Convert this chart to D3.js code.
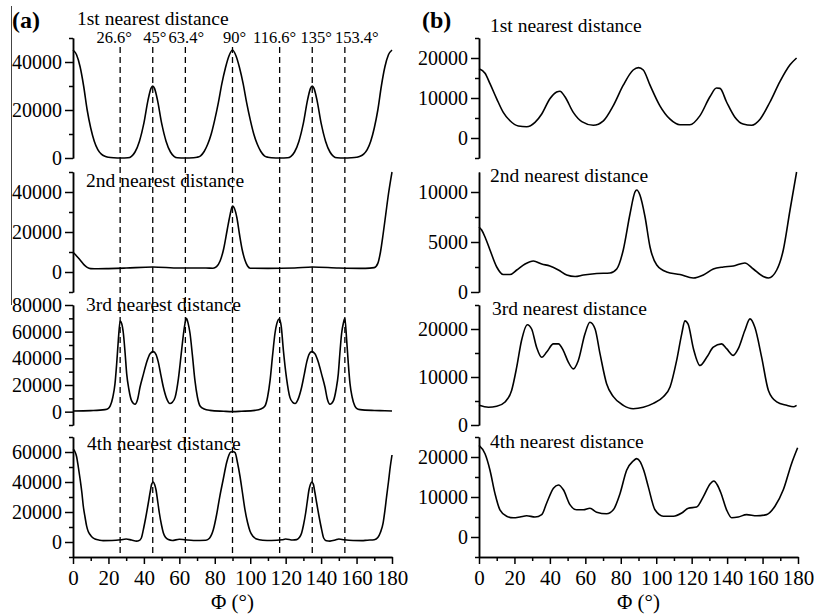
<!DOCTYPE html>
<html>
<head>
<meta charset="utf-8">
<script src="https://cdn.jsdelivr.net/npm/d3@7"></script>
<style>
  body { margin: 0; background: #fff; }
  svg text { font-family: "Liberation Serif", "Times New Roman", Times, "DejaVu Serif", serif !important; fill: #000; }
  .axis path, .axis line { stroke: #000; stroke-width: 1.5; fill: none; }
  .curve { fill: none; stroke: #000; stroke-width: 1.6; }
  .mark { stroke: #000; stroke-width: 1.3; stroke-dasharray: 6,4; }
</style>
</head>
<body>
<svg id="chart" width="814" height="616"></svg>
<script>
// ---- data ----
var phiTicks = [0, 20, 40, 60, 80, 100, 120, 140, 160, 180];
var phiMinor = [10, 30, 50, 70, 90, 110, 130, 150, 170];
var markAngles = [26.6, 45, 63.4, 90, 116.6, 135, 153.4];
var markLabels = ["26.6°", "45°", "63.4°", "90°", "116.6°", "135°", "153.4°"];
var titles = ["1st nearest distance", "2nd nearest distance", "3rd nearest distance", "4th nearest distance"];

// (a) y domains and ticks
var aDomains = [[0, 50000], [-10000, 50000], [-10000, 80000], [-10000, 70000]];
var aMajor = [[0, 20000, 40000], [0, 20000, 40000], [0, 20000, 40000, 60000, 80000], [0, 20000, 40000, 60000]];
var aMinor = [[10000, 30000, 50000], [-10000, 10000, 30000, 50000],
  [-10000, 10000, 30000, 50000, 70000], [-10000, 10000, 30000, 50000, 70000]];
// (b) y domains and ticks
var bDomains = [[-5000, 25000], [0, 12000], [0, 25000], [-5000, 25000]];
var bMajor = [[0, 10000, 20000], [0, 5000, 10000], [0, 10000, 20000], [0, 10000, 20000]];
var bMinor = [[-5000, 5000, 15000, 25000], [2500, 7500], [5000, 15000, 25000], [-5000, 5000, 15000, 25000]];

// series: [phi, count]
var a1 = [[0,45000],[2,43000],[4,38000],[6,30000],[8,20000],[10,12500],[12,7000],[14,3500],[16,1600],[18,700],
  [20,300],[23,80],[27,0],[31,100],[33,700],[35,2500],[37.5,7000],[40,14500],[42.3,24000],[44,29000],[45,30000],
  [46,29000],[47.7,24000],[50,14500],[52.5,7000],[55,2500],[57,700],[59,100],[63,0],[68,100],[70,300],[72,900],
  [74,2700],[76,5700],[78,10000],[80,16000],[82,23000],[84,31000],[86,37500],[88,42500],[90,45000],[92,42500],
  [94,37500],[96,31000],[98,23000],[100,16000],[102,10000],[104,5700],[106,2700],[108,900],[110,300],[112,100],
  [117,0],[121,100],[123,700],[125,2500],[127.5,7000],[130,14500],[132.3,24000],[134,29000],[135,30000],[136,29000],
  [137.7,24000],[140,14500],[142.5,7000],[145,2500],[147,700],[149,100],[153,0],[157,80],[160,300],[162,700],
  [164,1600],[166,3500],[168,7000],[170,12500],[172,20000],[174,30000],[176,38000],[178,43000],[180,45000]];

var a2 = [[0,9800],[1,9000],[2,8000],[4,6000],[6,3800],[8,2300],[10,1700],[14,1600],[20,1700],[30,2000],[45,2500],
  [60,2000],[75,2000],[79,1900],[81,2700],[83,5500],[85,11500],[87,21000],[88.5,28000],[90,33000],[91,32000],
  [92.5,27000],[94,18500],[95.5,11000],[97,6000],[98.5,3000],[100,1900],[110,1800],[125,2000],[135,2500],
  [150,2000],[165,1800],[170,2200],[172,4300],[173.5,10000],[175,19000],[176.5,29000],[178,39000],[180,50000]];

var a3 = [[0,500],[10,800],[18,1500],[20,2500],[21,4300],[22.5,11000],[23.7,21000],[24.7,37000],[25.6,54000],
  [26.6,68000],[27.5,66000],[28.4,59000],[29.4,44000],[30.3,28400],[31.5,17000],[33.1,8100],[35,5600],[36.5,9500],
  [37.8,18300],[39.7,28000],[41.6,37300],[43.5,43500],[45.3,45000],[46.8,43000],[48.1,37300],[49.5,28000],
  [51,18300],[52.8,10000],[54.7,6100],[56,7000],[57.6,10700],[59.5,25000],[61.3,46200],[62.7,62000],[64,70000],
  [65,66000],[66,59000],[67.4,42000],[68.8,23400],[70.2,11000],[71.7,4300],[74,2000],[77.3,1000],[85,300],[90,0],
  [95,300],[102.7,1000],[106,2000],[108.3,4300],[109.8,11000],[111.2,23400],[112.6,42000],[114,59000],[115,66000],
  [116.4,69500],[117.5,64000],[118.7,46200],[120.5,25000],[122.4,10700],[124,7000],[125.3,6100],[127.2,10000],
  [129,18300],[130.5,28000],[131.9,37300],[133.2,43000],[134.7,45000],[136.5,43500],[138.4,37300],[140.3,28000],
  [142.2,18300],[143.5,9500],[145,5600],[146.9,8100],[148.5,17000],[149.7,28400],[150.6,44000],[151.6,59000],
  [152.5,66000],[153.4,70000],[154.4,54000],[155.3,37000],[156.3,21000],[157.5,11000],[159,4300],[160,2500],
  [162,1500],[170,900],[176,700],[180,500]];

var a4 = [[0,61800],[1,60500],[2,57000],[3,50000],[4,42000],[5,33000],[5.8,24000],[6.8,16500],[7.7,10600],
  [8.6,7000],[9.6,5000],[11,3000],[12.4,2000],[15,1200],[17,900],[22,1000],[27,1500],[30,2000],[33,1300],[36,600],
  [37,800],[38.5,2500],[39.7,8300],[41,16000],[42.5,26000],[43.5,33000],[44.4,38600],[45.3,40000],[46,38500],
  [46.8,35000],[47.8,27000],[48.7,19500],[50,11000],[51,6000],[52.3,3000],[53.8,1600],[56,1000],[60,1800],[63,1500],
  [68,1000],[75,1200],[77,2500],[79.2,8300],[81,18000],[82.9,30800],[84.8,42000],[86.7,53000],[88,58000],[89,60000],
  [90.5,60200],[91.5,59500],[92.8,53000],[94.2,44000],[95.6,33000],[97,21800],[98.5,13000],[99.9,7200],[101.5,3800],
  [103.6,2000],[107,1200],[112,1000],[118,1500],[120,2000],[124,1300],[126.2,1600],[127.7,3000],[129,6000],
  [130,11000],[131.3,19500],[132.2,27000],[133.2,35000],[134,38500],[134.7,40000],[135.6,38600],[136.5,33000],
  [137.5,26000],[139,16000],[140.3,8300],[141.5,2500],[143,800],[145,600],[148,1300],[150,2000],[153,1500],
  [158,1000],[163,900],[166,1200],[170,1500],[172,3000],[173.5,6500],[175,12800],[176,21000],[177,30800],
  [178,40000],[179,50000],[180,58000]];

var b1 = [[0,17300],[3.4,16200],[6.2,13600],[10,9800],[13.7,6400],[17.5,4300],[22.2,3000],[26.9,2800],[31.6,3900],
  [35.4,6000],[40,9800],[43.8,11500],[45.7,11700],[48.5,10300],[53.2,6400],[58,4100],[64.5,3200],[70.2,4300],
  [75.8,8100],[81.4,13200],[87,17000],[90,17600],[92.7,17000],[96.5,13200],[102,8100],[107.8,4700],[113.4,3300],
  [119,3300],[124.7,5600],[130.3,10300],[134,12500],[136,12400],[139.7,9000],[144.4,5200],[149,3500],[153.9,3200],
  [158.6,4700],[164.2,9000],[169.8,14100],[175.5,18300],[179.2,20000]];

var b2 = [[0,6500],[1.5,6200],[3.4,5500],[6.2,4200],[10,2500],[13.7,1750],[17.5,1750],[21.3,2200],[26,2800],
  [30.7,3100],[35.4,2800],[40,2600],[44.8,2200],[49.5,1700],[54.2,1550],[58.9,1700],[66.4,1850],[73.9,1900],
  [77.7,2300],[81.4,4200],[85.2,7800],[88,10000],[89,10200],[90.8,9700],[93.7,7500],[96.5,4500],[100.3,2700],
  [105.9,2000],[113.4,1750],[120.9,1400],[126.6,1700],[132.2,2300],[137.9,2500],[143.5,2600],[150,2900],
  [154.8,2300],[160.4,1550],[163.3,1400],[168,2200],[171.7,4200],[175.5,8200],[179.2,12000]];

var b3 = [[0,4100],[5.3,3700],[10,3900],[14.7,4800],[18.4,7200],[21.3,12100],[24,17600],[27.3,20900],[29.7,20000],
  [32.5,16200],[35.4,14100],[38.2,15200],[42,16900],[44.8,16900],[47.6,15500],[50.4,13100],[53.2,11700],[56,13400],
  [59.8,19000],[62.6,21400],[65.5,20000],[68.3,14800],[72,8600],[75.8,5900],[81.4,4100],[87,3400],[92.7,3700],
  [98.4,4500],[104,5900],[107.8,7900],[111.5,13400],[114.4,19000],[116.2,21700],[118,21000],[121,15900],
  [124.7,12400],[128.5,14100],[132.2,16200],[136.9,16900],[139.7,15900],[143.5,14500],[146.3,15900],[150,19700],
  [152.9,22100],[155.7,20300],[159.5,14100],[163.3,7200],[168,4800],[173.6,4100],[177.4,3800],[179.2,4100]];

var b4 = [[0,22900],[3.4,20800],[6.2,16700],[9,10900],[11.8,6800],[15.6,5200],[19.4,4800],[23.1,5000],[26.9,5300],
  [31.6,5000],[35.4,5600],[38.2,8500],[42,12200],[44.8,13000],[47.6,11800],[51.3,8100],[55.1,6800],[58.9,6800],
  [62.6,7200],[66.4,6200],[72,5800],[75.8,6800],[79.6,10900],[83.3,16700],[87,19000],[89,19600],[91,18800],
  [93,16600],[95.5,12600],[99.3,6800],[104,5200],[109.7,5200],[114.4,6000],[118.1,7200],[122.8,7500],[126.6,10100],
  [130.3,13200],[132.5,14000],[134.5,13000],[136.5,11000],[139.7,6800],[142.6,4800],[146.3,5000],[151,5600],
  [156.7,5300],[162.3,5600],[167,7700],[171.7,11800],[176.4,18400],[179.8,22300]];

var aSeries = [a1, a2, a3, a4];
var bSeries = [b1, b2, b3, b4];

// ---- layout ----
var svg = d3.select("#chart");
var serif = "'Liberation Serif', 'Times New Roman', 'DejaVu Serif', serif";
var panelTop = [38, 172, 305, 437], panelH = 120;
var xA = d3.scaleLinear().domain([0, 180]).range([73, 392]);
var xB = d3.scaleLinear().domain([0, 180]).range([479, 798]);
var titlePosA = [[77, 25], [86, 187], [86, 311], [87, 450]];
var titlePosB = [[490, 32], [490, 182], [492, 315], [490, 448]];
var markShift = [-6, 2, 1, 2, -5, 4, 12];   // label nudges, px

// thin border line at far left of (a)
svg.append("line").attr("x1", 11.5).attr("x2", 11.5).attr("y1", 6).attr("y2", 305)
  .attr("stroke", "#444").attr("stroke-width", 1);

function drawColumn(x, series, domains, major, minor, titlePos) {
  series.forEach(function (data, i) {
    var y = d3.scaleLinear().domain(domains[i]).range([panelTop[i] + panelH, panelTop[i]]);
    var g = svg.append("g").attr("class", "axis").attr("transform", "translate(" + x.range()[0] + ",0)");
    g.call(d3.axisLeft(y).tickValues(major[i]).tickSize(8).tickSizeOuter(0).tickPadding(3)
      .tickFormat(d3.format("d")));
    g.append("g").call(d3.axisLeft(y).tickValues(minor[i]).tickSize(4).tickSizeOuter(0).tickFormat(""));
    g.attr("font-family", null);
    g.selectAll("text").style("font-family", serif).attr("font-size", 20).attr("fill", "#000");

    var line = d3.line()
      .x(function (d) { return x(d[0]); })
      .y(function (d) { return y(d[1]); })
      .curve(d3.curveMonotoneX);
    svg.append("path").attr("class", "curve").attr("d", line(data));

    svg.append("text").attr("x", titlePos[i][0]).attr("y", titlePos[i][1])
      .style("font-family", serif).attr("font-size", 19.5).text(titles[i]);
  });

  var gx = svg.append("g").attr("class", "axis")
    .attr("transform", "translate(0," + (panelTop[3] + panelH) + ")");
  gx.call(d3.axisBottom(x).tickValues(phiTicks).tickSize(7).tickSizeOuter(0).tickPadding(6)
    .tickFormat(d3.format("d")));
  gx.append("g").call(d3.axisBottom(x).tickValues(phiMinor).tickSize(4).tickSizeOuter(0).tickFormat(""));
  gx.attr("font-family", null);
  gx.selectAll("text").style("font-family", serif).attr("font-size", 21).attr("fill", "#000");

  svg.append("text").attr("x", d3.mean(x.range())).attr("y", 609)
    .attr("text-anchor", "middle").style("font-family", serif).attr("font-size", 21).text("Φ (°)");
}

// dashed reference angles in (a)
svg.selectAll("line.mark").data(markAngles).enter().append("line")
  .attr("class", "mark")
  .attr("x1", function (d) { return xA(d); }).attr("x2", function (d) { return xA(d); })
  .attr("y1", 47).attr("y2", panelTop[3] + panelH);
svg.selectAll("text.marklab").data(markAngles).enter().append("text")
  .attr("class", "marklab")
  .attr("x", function (d, i) { return xA(d) + markShift[i]; }).attr("y", 43)
  .attr("text-anchor", "middle").style("font-family", serif).attr("font-size", 16.5)
  .text(function (d, i) { return markLabels[i]; });

drawColumn(xA, aSeries, aDomains, aMajor, aMinor, titlePosA);
drawColumn(xB, bSeries, bDomains, bMajor, bMinor, titlePosB);

svg.append("text").attr("x", 12).attr("y", 28).style("font-family", serif)
  .attr("font-size", 24).attr("font-weight", "bold").text("(a)");
svg.append("text").attr("x", 422).attr("y", 28).style("font-family", serif)
  .attr("font-size", 24).attr("font-weight", "bold").text("(b)");
</script>
</body>
</html>
